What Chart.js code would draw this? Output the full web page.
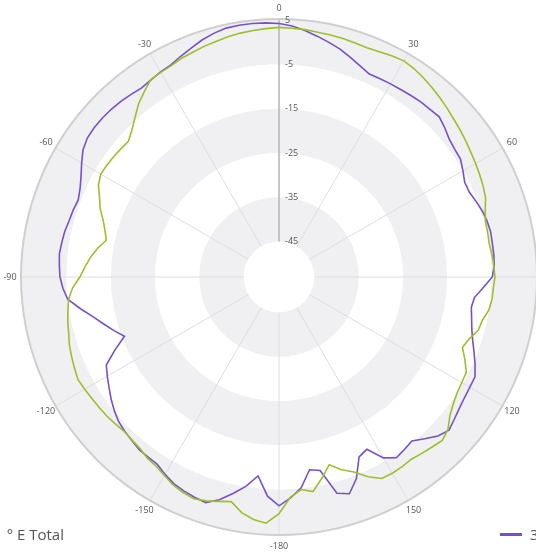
<!DOCTYPE html>
<html>
<head>
<meta charset="utf-8">
<script src="https://cdn.jsdelivr.net/npm/chart.js@4/dist/chart.umd.min.js"></script>
<style>
  html, body { margin: 0; padding: 0; background: #fff; }
  body { width: 536px; height: 555px; overflow: hidden; position: relative; font-family: 'Segoe UI', 'Open Sans', sans-serif; }
  #chart { position: absolute; left: 1px; top: -1px; }
  .legend { position: absolute; top: 524px; height: 20px; font-size: 15px; color: #555; white-space: nowrap; display: flex; align-items: center; }
  .legend i { display: inline-block; width: 22px; height: 3px; margin-right: 8px; }
</style>
</head>
<body>
<canvas id="chart" width="556" height="556"></canvas>
<div class="legend" id="legA" style="right: 472px;"><i style="background:#9fbe2d"></i><span style="margin-right:7px">0</span><span>° E Total</span></div>
<div class="legend" id="legB" style="left: 500px;"><i style="background:#7452c8"></i><span>30° E Total</span></div>
<script>
// angles every 3 degrees, clockwise from top: 0..177 then -180..-3
const angles = [];
for (let i = 0; i < 120; i++) angles.push(i < 60 ? i * 3 : i * 3 - 360);
const angleTicks = [0, 30, 60, 90, 120, 150, -180, -150, -120, -90, -60, -30];
const radialTicks = [5, -5, -15, -25, -35, -45];

const seriesNames = ['0° E Total', '30° E Total'];

// green
const eTotal0 = [
  3.4, 3.3, 3.2, 3.0, 2.9, 2.8, 2.6, 2.5, 2.7, 3.1,
  3.4, 3.1, 2.6, 2.0, 1.4, 0.8, 0.2, -0.3, -0.8, -1.3,
  -1.7, -2.1, -2.5, -3.0, -4.0, -4.7, -4.8, -4.9, -4.6, -4.4,
  -4.2, -4.5, -4.6, -5.0, -6.0, -6.4, -7.8, -8.6, -7.0, -5.5,
  -5.3, -5.0, -4.3, -3.3, -1.6, -0.8, -1.3, -1.7, -2.1, -1.9,
  -1.8, -1.9, -3.6, -5.8, -7.2, -9.1, -6.5, -3.9, -4.7, -3.2,
  0.5, 2.7, 2.1, 0.9, -1.1, -0.5, 0.2, 0.7, 0.3, -0.3,
  -1.2, -2.0, -2.4, -3.1, -3.4, -3.6, -3.3, -3.0, -2.8, -2.6,
  -2.3, -2.0, -2.4, -2.8, -3.2, -3.8, -4.2, -4.7, -5.2, -6.3,
  -8.0, -9.1, -10.2, -11.5, -13.1, -12.3, -11.2, -9.7, -8.6, -7.2,
  -6.5, -6.6, -6.8, -7.0, -7.2, -6.0, -4.4, -2.6, -1.2, 0.2,
  0.4, 0.6, 1.1, 1.4, 1.8, 2.1, 2.5, 2.8, 3.0, 3.2
];

// purple
const eTotal30 = [
  4.3, 3.8, 3.0, 2.1, 1.2, 0.3, -0.8, -1.9, -2.8, -2.7,
  -2.6, -2.5, -2.3, -2.1, -2.0, -1.8, -2.6, -3.5, -3.9, -4.1,
  -5.0, -5.9, -5.9, -5.3, -4.7, -4.3, -4.1, -4.2, -4.2, -4.3,
  -4.8, -6.8, -8.6, -9.0, -8.5, -7.9, -7.0, -5.8, -4.5, -3.3,
  -3.2, -3.0, -2.6, -2.0, -1.3, -2.2, -3.8, -5.3, -4.8, -4.3,
  -5.8, -9.3, -8.5, -4.2, -1.5, -2.4, -8.3, -8.9, -5.1, -3.0,
  -1.3, -3.4, -7.8, -5.1, -3.0, -0.9, 0.6, 0.3, -0.1, -0.6,
  -1.5, -2.5, -2.7, -2.8, -3.3, -3.7, -4.2, -5.1, -6.1, -7.2,
  -8.2, -9.2, -12.4, -15.6, -13.8, -12.0, -10.0, -7.5, -5.0, -4.1,
  -3.5, -3.3, -3.1, -3.3, -3.5, -3.9, -4.1, -4.4, -3.8, -2.8,
  -1.5, -0.2, 0.5, 0.7, 0.7, 0.6, 0.4, 0.1, -0.2, 0.1,
  0.5, 0.8, 1.6, 2.4, 3.3, 4.0, 4.5, 4.6, 4.6, 4.5
];

const scaleMin = -53;
const scaleMax = 5.3;

// rings, spokes and labels, drawn from the radial scale
const polarBackground = {
  id: 'polarBackground',
  beforeDatasetsDraw(chart) {
    const s = chart.scales.r;
    const ctx = chart.ctx;
    const cx = s.xCenter, cy = s.yCenter;
    const rr = v => s.getDistanceFromCenterForValue(v);
    ctx.save();

    // alternating bands: gray from the edge down to -5, then every other 10
    const edges = [scaleMax].concat(radialTicks.slice(1));
    for (let k = 0; k < edges.length - 1; k++) {
      ctx.beginPath();
      ctx.arc(cx, cy, rr(edges[k]), 0, Math.PI * 2);
      ctx.arc(cx, cy, rr(edges[k + 1]), 0, Math.PI * 2, true);
      ctx.fillStyle = k % 2 === 0 ? '#f0f0f2' : '#ffffff';
      ctx.fill();
    }

    // spokes every 30 deg
    const inner = rr(-45), outer = rr(scaleMax);
    ctx.lineWidth = 1;
    ctx.strokeStyle = '#dedede';
    angles.forEach((a, i) => {
      if (a % 30 !== 0 || a === 0) return;
      const p0 = s.getPointPosition(i, inner);
      const p1 = s.getPointPosition(i, outer);
      ctx.beginPath();
      ctx.moveTo(p0.x, p0.y);
      ctx.lineTo(p1.x, p1.y);
      ctx.stroke();
    });

    // outer circle
    ctx.beginPath();
    ctx.arc(cx, cy, outer, 0, Math.PI * 2);
    ctx.strokeStyle = '#cfcfcf';
    ctx.lineWidth = 2;
    ctx.stroke();

    // radial axis line
    ctx.beginPath();
    ctx.moveTo(cx, cy - inner);
    ctx.lineTo(cx, cy - rr(5));
    ctx.strokeStyle = '#b4b4b4';
    ctx.lineWidth = 1.5;
    ctx.stroke();

    // tick labels
    ctx.font = '9px "Segoe UI", "Open Sans", sans-serif';
    ctx.fillStyle = '#555';
    ctx.textAlign = 'left';
    ctx.textBaseline = 'middle';
    radialTicks.forEach(v => ctx.fillText(String(v), cx + 6, cy - rr(v)));

    // angle labels
    ctx.textAlign = 'center';
    angles.forEach((a, i) => {
      if (!angleTicks.includes(a)) return;
      const p = s.getPointPosition(i, outer + 11);
      ctx.fillText(String(a), p.x, p.y);
    });
    ctx.restore();
  }
};

new Chart(document.getElementById('chart'), {
  type: 'radar',
  data: {
    labels: angles,
    datasets: [
      { label: seriesNames[0], data: eTotal0, borderColor: '#9fbe2d', backgroundColor: 'transparent', borderWidth: 1.6, pointRadius: 0, fill: false },
      { label: seriesNames[1], data: eTotal30, borderColor: '#7452c8', backgroundColor: 'transparent', borderWidth: 1.6, pointRadius: 0, fill: false }
    ]
  },
  options: {
    responsive: false,
    animation: false,
    layout: { padding: 20 },
    elements: { line: { tension: 0 } },
    plugins: { legend: { display: false }, tooltip: { enabled: false } },
    scales: {
      r: {
        min: scaleMin,
        max: scaleMax,
        grid: { display: false },
        angleLines: { display: false },
        pointLabels: { display: false },
        ticks: { display: false }
      }
    }
  },
  plugins: [polarBackground]
});
</script>
</body>
</html>
